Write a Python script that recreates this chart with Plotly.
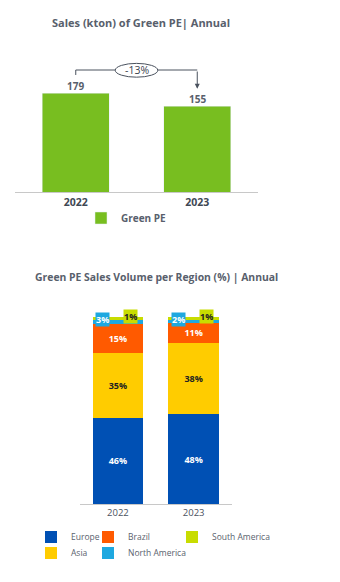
import plotly.graph_objects as go

# ---------------- data ----------------
years = ["2022", "2023"]
green_pe_kton = [179, 155]

regions = ["Europe", "Asia", "Brazil", "North America", "South America"]
region_share = {
    "Europe": [46, 48],
    "Asia": [35, 38],
    "Brazil": [15, 11],
    "North America": [3, 2],
    "South America": [1, 1],
}
region_colors = {
    "Europe": "#0050B4",
    "Asia": "#FFCC00",
    "Brazil": "#FF5A00",
    "North America": "#1EA8E0",
    "South America": "#C8DC00",
}
region_text_colors = {
    "Europe": "#FFFFFF",
    "Asia": "#222222",
    "Brazil": "#FFFFFF",
    "North America": "#FFFFFF",
    "South America": "#222222",
}
title_top = "Sales (kton) of Green PE| Annual"
title_bottom = "Green PE Sales Volume per Region (%) | Annual"

W, H = 340, 582
GRAY = "#58606C"
FONT = "Open Sans"

fig = go.Figure()

# ---------------- top chart ----------------
fig.add_trace(go.Bar(
    x=years, y=green_pe_kton, name="Green PE",
    marker_color="#78BE20", xaxis="x", yaxis="y",
    legend="legend", width=0.551,
))

# ---------------- bottom chart ----------------
legend_ids = {"Europe": "legend2", "Brazil": "legend3", "South America": "legend4",
              "Asia": "legend5", "North America": "legend6"}
small = {"North America", "South America"}
for r in regions:
    vals = region_share[r]
    fig.add_trace(go.Bar(
        x=years, y=vals, name=r, marker_color=region_colors[r],
        marker_line_width=0, width=0.664,
        xaxis="x2", yaxis="y2",
        text=None if r in small else [f"{v}%" for v in vals],
        textposition="inside", insidetextanchor="middle",
        textfont=dict(family=FONT, size=9, color=region_text_colors[r], weight="bold"),
        legend=legend_ids[r],
    ))

annotations = []
# value labels above the top bars (category index positions)
for i, v in enumerate(green_pe_kton):
    annotations.append(dict(
        x=i, y=v, xref="x", yref="y", yanchor="bottom", yshift=-2,
        text=str(v), showarrow=False,
        font=dict(family=FONT, size=10, color=GRAY, weight="bold"),
    ))

# small-segment labels as annotations with coloured boxes
for i, y in enumerate(years):
    cum_na = sum(region_share[r][i] for r in regions[:4])
    cum_sa = cum_na + region_share["South America"][i]
    annotations.append(dict(
        x=i - 0.2, y=cum_na, xref="x2", yref="y2", yshift=-1,
        text=f"{region_share['North America'][i]}%", showarrow=False,
        bgcolor=region_colors["North America"], borderpad=0,
        font=dict(family=FONT, size=9, color="#FFFFFF", weight="bold"),
    ))
    annotations.append(dict(
        x=i + 0.17, y=cum_sa, xref="x2", yref="y2", yshift=1,
        text=f"{region_share['South America'][i]}%", showarrow=False,
        bgcolor=region_colors["South America"], borderpad=0,
        font=dict(family=FONT, size=9, color="#222222", weight="bold"),
    ))

# ---------------- change bracket (top chart) ----------------
v1, v2 = green_pe_kton
top_y = max(green_pe_kton) + 42
change = round((v2 - v1) / v1 * 100)
shapes = [
    dict(type="path", xref="x", yref="y",
         path=f"M 0,{v1 + 33} L 0,{top_y} L 1,{top_y}",
         line=dict(color="#4A525E", width=1)),
    dict(type="circle", xref="x", yref="y",
         x0=0.5 - 0.175, x1=0.5 + 0.175, y0=top_y - 13, y1=top_y + 12,
         line=dict(color="#4A525E", width=1), fillcolor="white", layer="above"),
]
annotations.append(dict(
    x=1, y=v2 + 32, xref="x", yref="y", ax=1, ay=top_y, axref="x", ayref="y",
    text="", showarrow=True, arrowhead=2, arrowsize=1, arrowwidth=1,
    arrowcolor="#4A525E", standoff=0,
))
annotations.append(dict(
    x=0.5, y=top_y - 0.5, xref="x", yref="y", text=f"{change}%", showarrow=False,
    font=dict(family=FONT, size=10.5, color="#3A424E"),
))

# titles
annotations.append(dict(x=140.5 / W, y=1 - 13 / H, xref="paper", yref="paper",
                        text=f"<b>{title_top}</b>", showarrow=False,
                        font=dict(family=FONT, size=11, color=GRAY)))
annotations.append(dict(x=156.5 / W, y=1 - 277 / H, xref="paper", yref="paper",
                        text=f"<b>{title_bottom}</b>", showarrow=False,
                        font=dict(family=FONT, size=10.4, color=GRAY)))

def leg(xpx, ypx, size=8.5, color="#5A626E", weight="normal"):
    return dict(x=xpx / W, y=1 - ypx / H, xanchor="left", yanchor="middle",
                orientation="h", bgcolor="rgba(0,0,0,0)",
                font=dict(family=FONT, size=size, color=color, weight=weight))

fig.update_layout(
    width=W, height=H, margin=dict(l=0, r=0, t=0, b=0),
    paper_bgcolor="white", plot_bgcolor="white",
    showlegend=True,
    barmode="stack",
    xaxis=dict(domain=[15 / W, 258 / W], anchor="y", type="category",
               categoryarray=years, range=[-0.5, 1.5], showgrid=False,
               showline=True, linecolor="#C8C8C8", linewidth=1, ticks="",
               tickfont=dict(family=FONT, size=10.5, color="#404854", weight="bold")),
    yaxis=dict(domain=[1 - 192 / H, 1 - 54 / H], anchor="x", range=[0, 250], visible=False),
    xaxis2=dict(domain=[80 / W, 231.5 / W], anchor="y2", type="category",
                categoryarray=years, range=[-0.5, 1.5], showgrid=False,
                showline=True, linecolor="#C8C8C8", linewidth=1, ticks="",
                tickfont=dict(family=FONT, size=9.5, color="#4A525E")),
    yaxis2=dict(domain=[1 - 504 / H, 1 - 307.65 / H], anchor="x2", range=[0, 105], visible=False),
    legend=leg(81, 218, size=10, color=GRAY, weight="bold"),
    legend2=leg(31, 537), legend3=leg(88, 537), legend4=leg(172, 537),
    legend5=leg(31, 553), legend6=leg(88, 553),
    shapes=shapes, annotations=annotations,
)

fig.write_html("out.html")
